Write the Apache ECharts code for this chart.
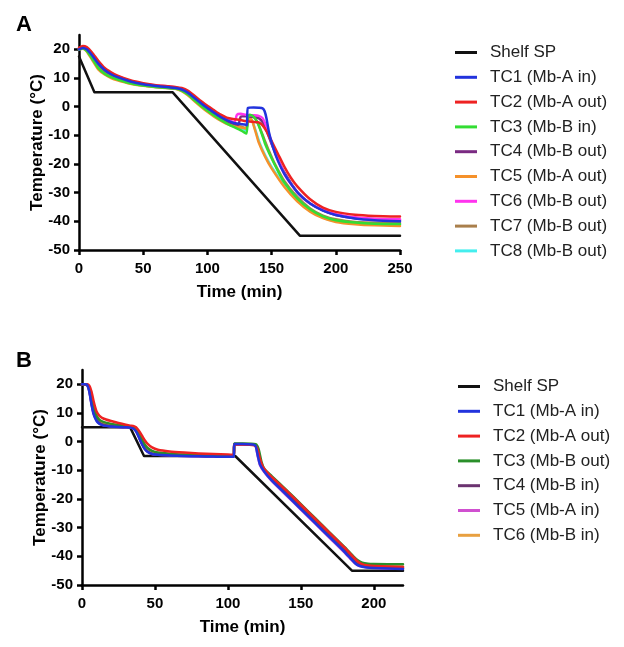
<!DOCTYPE html>
<html><head><meta charset="utf-8">
<script src="https://cdn.jsdelivr.net/npm/echarts@6/dist/echarts.min.js"></script>
<style>
html,body{margin:0;padding:0;background:#fff;}
#ca{position:absolute;left:0;top:0;width:624px;height:320px;}
#cb{position:absolute;left:0;top:320px;width:624px;height:327px;}
</style></head>
<body>
<div id="ca"></div><div id="cb"></div>
<script>
// ---------- Panel A data ----------
const shelfA_t = [0, 12, 73, 172, 250];
const shelfA_v = [17.5, 5, 5, -45, -45];
const preA_t = [0, 3, 6, 10, 15, 20, 25, 30, 40, 50, 60, 70, 75, 80, 85, 90, 95, 100, 105, 110, 115];
const tc1A_pre = [20, 20.5, 20, 18, 15, 12.8, 11.3, 10.3, 8.8, 7.8, 7.2, 6.8, 6.5, 6, 4.8, 3, 1.2, -0.5, -2, -3.5, -4.7];
const tc2A_pre = [20.5, 21.2, 20.8, 19, 16, 13.5, 12, 10.8, 9.2, 8.2, 7.5, 7.1, 6.9, 6.5, 5.5, 3.8, 2, 0.3, -1.2, -2.7, -3.8];
const tc3A_pre = [20, 20.3, 19.5, 17, 13.5, 11.5, 10.3, 9.5, 8.2, 7.4, 6.9, 6.5, 6.3, 5.6, 4.2, 2.2, 0.3, -1.4, -3, -4.5, -5.8];
const tc4A_pre = [20.2, 20.6, 20.2, 18.2, 15.2, 12.9, 11.4, 10.4, 8.9, 7.9, 7.3, 6.9, 6.6, 6.1, 4.9, 3.1, 1.2, -0.6, -2.2, -3.8, -5];
const tc5A_pre = [20, 20.2, 19.3, 16.5, 13, 11.2, 10, 9.2, 8, 7.3, 6.8, 6.4, 6.2, 5.4, 3.9, 1.9, 0, -1.8, -3.4, -4.8, -6];
const tc6A_pre = [20.3, 20.8, 20.5, 18.5, 15.5, 13.2, 11.7, 10.6, 9, 8, 7.4, 7, 6.7, 6.2, 5.1, 3.3, 1.5, -0.2, -1.8, -3.2, -4.3];
const tc7A_pre = [20, 20.4, 19.8, 17.5, 14.2, 12, 10.8, 9.8, 8.5, 7.6, 7, 6.6, 6.4, 5.8, 4.4, 2.5, 0.6, -1.2, -2.8, -4.3, -5.5];
const tc8A_pre = [20, 20.3, 19.5, 17, 13.6, 11.6, 10.4, 9.5, 8.2, 7.4, 6.9, 6.5, 6.3, 5.6, 4.2, 2.2, 0.3, -1.5, -3.1, -4.5, -5.7];

const tc1A_tt = [120, 125, 130, 130.8, 131.5, 136, 140, 143, 144.5, 146, 148, 151, 155, 160, 166, 172, 180, 190, 200, 215, 230, 250];
const tc1A_tv = [-5.6, -6, -6.3, -6.5, -0.4, -0.3, -0.4, -0.6, -1.5, -4, -9, -14, -19, -23.5, -27.5, -30.8, -33.8, -36.3, -37.8, -39, -39.6, -40];
const tc2A_tt = [120, 125, 130, 135, 140, 143, 146, 150, 155, 160, 165, 170, 180, 190, 200, 215, 230, 250];
const tc2A_tv = [-4.3, -4.6, -5, -5.3, -5.5, -6.5, -8.5, -12, -16.5, -21, -24.8, -27.8, -32.3, -35.2, -36.7, -37.7, -38.1, -38.3];
const tc3A_tt = [120, 125, 128, 130.5, 131.5, 133, 136, 139, 142, 145, 150, 155, 160, 170, 180, 190, 200, 215, 230, 250];
const tc3A_tv = [-7, -8, -8.8, -9.4, -4, -2.8, -3.5, -5.5, -9, -13, -18, -22.5, -26.5, -32, -35.8, -38.3, -39.6, -40.4, -40.8, -40.9];
const tc4A_tt = [120, 124, 126, 130, 135, 140, 144, 147, 150, 155, 160, 170, 180, 190, 200, 215, 250];
const tc4A_tv = [-5.8, -6.3, -3.5, -3.3, -3.5, -4, -6, -9.5, -13, -18.5, -23, -29.8, -33.8, -36.2, -37.8, -38.9, -39.6];
const tc5A_tt = [120, 125, 129, 130.5, 132, 134, 137, 140, 145, 150, 160, 170, 180, 190, 200, 215, 230, 250];
const tc5A_tv = [-6.8, -7.2, -7.5, -7.6, -4.5, -4.3, -8, -12.5, -17.5, -21.5, -28, -33, -36.6, -38.9, -40.2, -41, -41.4, -41.6];
const tc6A_tt = [118, 121, 123, 126, 130, 135, 140, 143, 146, 149, 152, 156, 160, 166, 172, 180, 190, 200, 215, 230, 250];
const tc6A_tv = [-5, -5.5, -2.8, -2.5, -2.8, -3, -3.2, -4, -7, -11, -15, -19.5, -23.5, -27.5, -30.8, -33.8, -36, -37.5, -38.6, -39.1, -39.3];
const tc7A_tt = [120, 125, 130, 132, 134, 137, 140, 144, 148, 152, 160, 170, 180, 190, 200, 215, 250];
const tc7A_tv = [-6, -6.8, -7.5, -4.5, -3.5, -4, -6.5, -11, -15.5, -19.5, -26, -31.5, -35.5, -38, -39.3, -40.2, -40.6];
const tc8A_tt = [120, 125, 130, 131.5, 133, 135, 138, 141, 145, 150, 160, 170, 180, 190, 200, 215, 250];
const tc8A_tv = [-6.5, -7.5, -8.2, -5, -3.8, -5, -9, -13, -17, -21, -27.5, -32.5, -36.3, -38.7, -40, -40.8, -41.2];

const namesA = ['Shelf SP', 'TC1 (Mb-A in)', 'TC2 (Mb-A out)', 'TC3 (Mb-B in)', 'TC4 (Mb-B out)', 'TC5 (Mb-A out)', 'TC6 (Mb-B out)', 'TC7 (Mb-B out)', 'TC8 (Mb-B out)'];
const colorsA = ['#111111', '#2233dd', '#ee2222', '#33dd33', '#7a2a82', '#f5912a', '#ff33ee', '#a97f4c', '#44eeee'];

// ---------- Panel B data ----------
const shelfB_t = [0, 33, 42.5, 105, 185, 220];
const shelfB_v = [5, 5, -5, -5, -45, -45];
const preB_t = [0, 2, 3.5, 5, 6.5, 8, 10, 12, 15, 20, 25, 30, 33, 35, 37, 39, 41, 43, 45, 48, 52, 60, 70, 80, 90, 100, 104];
const tc1B_pre = [20, 20, 19.8, 17.5, 13, 9.5, 7.2, 6.2, 5.6, 5.3, 5.1, 5, 4.9, 4.6, 3.6, 1.5, -0.8, -2.6, -3.6, -4.3, -4.6, -4.8, -5, -5.1, -5.2, -5.3, -5.3];
const tc2B_pre = [20, 20, 20, 19.5, 17.5, 14, 10.5, 9, 8, 7.2, 6.5, 5.9, 5.6, 5.5, 5, 3.8, 2.2, 0.5, -0.8, -2, -2.8, -3.4, -3.8, -4.1, -4.3, -4.5, -4.6];
const tc3B_pre = [20, 20, 19.9, 18.8, 15.5, 12, 9, 7.6, 6.8, 6.2, 5.8, 5.5, 5.3, 5.1, 4.4, 2.8, 1, -1, -2.2, -3.2, -3.8, -4.2, -4.5, -4.7, -4.8, -4.9, -5];
const tc4B_pre = [20, 20, 19.8, 17.8, 13.5, 10, 7.6, 6.5, 5.8, 5.4, 5.2, 5.1, 5, 4.7, 3.8, 1.8, -0.5, -2.3, -3.4, -4.2, -4.5, -4.7, -4.9, -5, -5.1, -5.2, -5.2];
const tc5B_pre = [20, 20, 19.8, 17.6, 13.2, 9.7, 7.4, 6.3, 5.7, 5.3, 5.1, 5, 4.9, 4.6, 3.7, 1.6, -0.7, -2.5, -3.5, -4.3, -4.6, -4.8, -5, -5.1, -5.2, -5.3, -5.3];
const tc6B_pre = [20, 20, 19.9, 18.5, 15, 11.5, 8.6, 7.3, 6.5, 6, 5.6, 5.3, 5.2, 5, 4.2, 2.5, 0.6, -1.3, -2.5, -3.5, -4, -4.4, -4.6, -4.8, -4.9, -5, -5.1];

const tc1B_tt = [104.4, 110, 117, 119, 120.5, 122, 125, 130, 140, 150, 160, 170, 180, 184, 187, 190, 195, 200, 220];
const tc1B_tv = [-0.8, -0.8, -1, -1.5, -5, -8, -10.5, -13.5, -18.5, -23.5, -28.5, -33.5, -38.5, -40.7, -42.3, -43.3, -43.9, -44.1, -44.4];
const tc2B_tt = [104.4, 110, 118, 120, 122, 124, 128, 140, 150, 160, 170, 180, 186, 189, 192, 196, 200, 220];
const tc2B_tv = [-1, -1, -1.3, -2.2, -6, -8.8, -11.3, -17, -22, -27, -32, -37, -40.3, -41.8, -42.7, -43.2, -43.4, -43.7];
const tc3B_tt = [104.4, 110, 119, 121, 123, 125, 130, 140, 150, 160, 170, 180, 186, 189, 192, 196, 200, 220];
const tc3B_tv = [-0.6, -0.6, -0.9, -2.5, -7, -9.5, -12, -16.8, -21.8, -26.8, -31.8, -36.8, -40, -41.4, -42.2, -42.6, -42.7, -42.8];
const tc4B_tt = [104.4, 110, 118, 120, 121.5, 124, 130, 140, 150, 160, 170, 180, 185, 188, 192, 200, 220];
const tc4B_tv = [-0.9, -0.9, -1.1, -2, -6, -9.5, -13, -18, -23, -28, -33, -38, -40.8, -42.3, -43.3, -43.8, -44.1];
const tc5B_tt = [104.4, 110, 117, 119, 120.5, 122, 125, 130, 140, 150, 160, 170, 180, 184, 187, 190, 200, 220];
const tc5B_tv = [-0.9, -0.9, -1.1, -1.6, -5.2, -8.2, -10.7, -13.7, -18.7, -23.7, -28.7, -33.7, -38.7, -40.9, -42.4, -43.4, -44, -44.3];
const tc6B_tt = [104.4, 110, 118, 120, 122, 124, 130, 140, 150, 160, 170, 180, 186, 189, 193, 200, 220];
const tc6B_tv = [-0.8, -0.8, -1.1, -2, -6.5, -9.2, -12.5, -17.5, -22.5, -27.5, -32.5, -37.5, -40.6, -42, -42.9, -43.4, -43.6];

const namesB = ['Shelf SP', 'TC1 (Mb-A in)', 'TC2 (Mb-A out)', 'TC3 (Mb-B out)', 'TC4 (Mb-B in)', 'TC5 (Mb-A in)', 'TC6 (Mb-B in)'];
const colorsB = ['#111111', '#2233dd', '#ee2222', '#2a8f2a', '#6b3370', '#d050d0', '#e8a040'];

const yTicks = [-50, -40, -30, -20, -10, 0, 10, 20];
const xTicksA = [0, 50, 100, 150, 200, 250];
const xTicksB = [0, 50, 100, 150, 200];

// ---------- helpers ----------
const FONT = "'Liberation Sans', Arial, Helvetica, sans-serif";
function pts(t, v) { return t.map((x, i) => [x, v[i]]); }
function joinPts(preT, preV, tailT, tailV) { return pts(preT, preV).concat(pts(tailT, tailV)); }

function lineSeries(name, color, data, smooth, z) {
  return {
    type: 'line', name: name, data: data, showSymbol: false, symbol: 'none',
    smooth: smooth, z: z,
    lineStyle: { color: color, width: 2.5, join: 'round', cap: 'round' }, itemStyle: { color: color },
    emphasis: { disabled: true }, animation: false
  };
}

function axes(xmax, xTicks) {
  const axisLine = { show: true, onZero: false, lineStyle: { color: '#000', width: 2.5 } };
  return {
    xAxis: {
      type: 'value', min: 0, max: xmax, interval: 50,
      name: 'Time (min)', nameLocation: 'middle', nameGap: 34, nameMoveOverlap: false,
      nameTextStyle: { fontFamily: FONT, fontWeight: 'bold', fontSize: 17, color: '#000', verticalAlign: 'top' },
      axisLine: axisLine,
      axisTick: { show: true, length: 5, customValues: xTicks, lineStyle: { color: '#000', width: 2.5 } },
      axisLabel: { fontFamily: FONT, fontWeight: 'bold', fontSize: 15, color: '#000', margin: 11, customValues: xTicks },
      splitLine: { show: false }
    },
    yAxis: {
      type: 'value', min: -50, max: 25, interval: 10,
      name: 'Temperature (°C)', nameLocation: 'middle', nameGap: 33, nameRotate: 90, nameMoveOverlap: false,
      nameTextStyle: { fontFamily: FONT, fontWeight: 'bold', fontSize: 17, color: '#000' },
      axisLine: axisLine,
      axisTick: { show: true, length: 5, customValues: yTicks, lineStyle: { color: '#000', width: 2.5 } },
      axisLabel: { fontFamily: FONT, fontWeight: 'bold', fontSize: 15, color: '#000', margin: 9, customValues: yTicks },
      splitLine: { show: false }
    }
  };
}

function legendCfg(names, left, top, textPad) {
  return {
    data: names, orient: 'vertical', left: left, top: top,
    icon: 'rect', itemWidth: 22, itemHeight: 3, itemGap: 7.8,
    selectedMode: false,
    textStyle: { fontFamily: FONT, fontSize: 17, lineHeight: 17, color: '#222', padding: [0, 0, 0, textPad] }
  };
}

// ---------- Panel A ----------
const chartA = echarts.init(document.getElementById('ca'), null, { renderer: 'canvas' });
const axA = axes(250, xTicksA);
const seriesA = [
  lineSeries(namesA[0], colorsA[0], pts(shelfA_t, shelfA_v), false, 2),
  lineSeries(namesA[8], colorsA[8], joinPts(preA_t, tc8A_pre, tc8A_tt, tc8A_tv), 0.2, 3),
  lineSeries(namesA[7], colorsA[7], joinPts(preA_t, tc7A_pre, tc7A_tt, tc7A_tv), 0.2, 3),
  lineSeries(namesA[5], colorsA[5], joinPts(preA_t, tc5A_pre, tc5A_tt, tc5A_tv), 0.2, 3),
  lineSeries(namesA[4], colorsA[4], joinPts(preA_t, tc4A_pre, tc4A_tt, tc4A_tv), 0.2, 3),
  lineSeries(namesA[6], colorsA[6], joinPts(preA_t, tc6A_pre, tc6A_tt, tc6A_tv), 0.2, 3),
  lineSeries(namesA[3], colorsA[3], joinPts(preA_t, tc3A_pre, tc3A_tt, tc3A_tv), 0.2, 3),
  lineSeries(namesA[2], colorsA[2], joinPts(preA_t, tc2A_pre, tc2A_tt, tc2A_tv), 0.2, 3),
  lineSeries(namesA[1], colorsA[1], joinPts(preA_t, tc1A_pre, tc1A_tt, tc1A_tv), 0.2, 3)
];
chartA.setOption({
  animation: false,
  backgroundColor: '#fff',
  grid: { left: 79, right: 224, top: 35, bottom: 70 },
  xAxis: axA.xAxis, yAxis: axA.yAxis,
  legend: legendCfg(namesA, 450, 39, 8),
  graphic: [{ type: 'text', left: 16, top: 14, style: { text: 'A', fontFamily: FONT, fontWeight: 'bold', fontSize: 22, fill: '#000' } }],
  series: seriesA
});

// ---------- Panel B ----------
const chartB = echarts.init(document.getElementById('cb'), null, { renderer: 'canvas' });
const axB = axes(220, xTicksB);
const seriesB = [
  lineSeries(namesB[0], colorsB[0], pts(shelfB_t, shelfB_v), false, 2),
  lineSeries(namesB[6], colorsB[6], joinPts(preB_t, tc6B_pre, tc6B_tt, tc6B_tv), 0.2, 3),
  lineSeries(namesB[5], colorsB[5], joinPts(preB_t, tc5B_pre, tc5B_tt, tc5B_tv), 0.2, 3),
  lineSeries(namesB[4], colorsB[4], joinPts(preB_t, tc4B_pre, tc4B_tt, tc4B_tv), 0.2, 3),
  lineSeries(namesB[3], colorsB[3], joinPts(preB_t, tc3B_pre, tc3B_tt, tc3B_tv), 0.2, 3),
  lineSeries(namesB[2], colorsB[2], joinPts(preB_t, tc2B_pre, tc2B_tt, tc2B_tv), 0.2, 3),
  lineSeries(namesB[1], colorsB[1], joinPts(preB_t, tc1B_pre, tc1B_tt, tc1B_tv), 0.2, 3)
];
chartB.setOption({
  animation: false,
  backgroundColor: '#fff',
  grid: { left: 82, right: 221, top: 50, bottom: 62 },
  xAxis: axB.xAxis, yAxis: axB.yAxis,
  legend: legendCfg(namesB, 453, 53, 8),
  graphic: [{ type: 'text', left: 16, top: 30, style: { text: 'B', fontFamily: FONT, fontWeight: 'bold', fontSize: 22, fill: '#000' } }],
  series: seriesB
});
</script>
</body></html>
